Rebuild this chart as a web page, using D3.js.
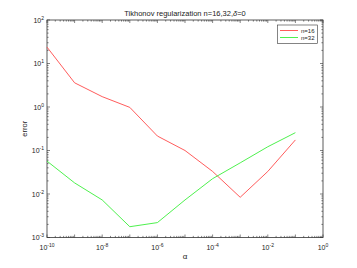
<!DOCTYPE html>
<html><head><meta charset="utf-8">
<script src="https://cdn.jsdelivr.net/npm/d3@7"></script>
<style>body{margin:0;background:#fff}svg{display:block}text{font-family:"Liberation Sans",Arial,sans-serif;fill:#222}</style>
</head><body>
<script>
const alphas = [1e-10,1e-9,1e-8,1e-7,1e-6,1e-5,1e-4,1e-3,1e-2,1e-1];
const err16 = [23.8,3.6,1.73,0.98,0.215,0.10,0.033,0.0084,0.033,0.175];
const err32 = [0.057,0.018,0.0073,0.00177,0.0022,0.0073,0.0225,0.052,0.122,0.257];
const seriesNames = ["n=16","n=32"];
const seriesColors = ["#ff4a4a","#3aee3a"];
const xTickExps = [-10,-8,-6,-4,-2,0];
const yTickExps = [-3,-2,-1,0,1,2];

const W=357,H=268;
const svg=d3.select("body").append("svg").attr("width",W).attr("height",H);
const L=47,R=323,T=20,B=237.5;
const x=d3.scaleLog().domain([1e-10,1]).range([L,R]);
const y=d3.scaleLog().domain([1e-3,1e2]).range([B,T]);

const g=svg.append("g");
g.append("rect").attr("x",L).attr("y",T).attr("width",R-L).attr("height",B-T)
 .attr("fill","none").attr("stroke","#333").attr("stroke-width",0.8);

const minorX=[],majorX=[];
for(let e=-10;e<=0;e++){majorX.push(Math.pow(10,e)); if(e<0) for(let k=2;k<10;k++) minorX.push(k*Math.pow(10,e));}
const minorY=[],majorY=[];
for(let e=-3;e<=2;e++){majorY.push(Math.pow(10,e)); if(e<2) for(let k=2;k<10;k++) minorY.push(k*Math.pow(10,e));}
const tk=g.append("g").attr("stroke","#333").attr("stroke-width",0.6);
function xt(v,len){const px=x(v);
 tk.append("line").attr("x1",px).attr("x2",px).attr("y1",B).attr("y2",B-len);
 tk.append("line").attr("x1",px).attr("x2",px).attr("y1",T).attr("y2",T+len);}
function yt(v,len){const py=y(v);
 tk.append("line").attr("y1",py).attr("y2",py).attr("x1",L).attr("x2",L+len);
 tk.append("line").attr("y1",py).attr("y2",py).attr("x1",R).attr("x2",R-len);}
majorX.forEach(v=>xt(v,3)); minorX.forEach(v=>xt(v,1.6));
majorY.forEach(v=>yt(v,3)); minorY.forEach(v=>yt(v,1.6));

xTickExps.forEach(e=>{
 const t=g.append("text").attr("x",x(Math.pow(10,e))).attr("y",B+12).attr("text-anchor","middle").attr("font-size",7);
 t.append("tspan").text("10");
 t.append("tspan").attr("dy",-3).attr("font-size",5).text(e);
});
yTickExps.forEach(e=>{
 const t=g.append("text").attr("x",L-3).attr("y",y(Math.pow(10,e))+2.5).attr("text-anchor","end").attr("font-size",7);
 t.append("tspan").text("10");
 t.append("tspan").attr("dy",-3).attr("font-size",5).text(e);
});

const line=d3.line().x(d=>x(d[0])).y(d=>y(d[1]));
[err16,err32].forEach((s,i)=>{
 g.append("path").datum(alphas.map((a,j)=>[a,s[j]])).attr("d",line)
  .attr("fill","none").attr("stroke",seriesColors[i]).attr("stroke-width",0.9);
});

const tt=svg.append("text").attr("x",(L+R)/2).attr("y",16).attr("text-anchor","middle").attr("font-size",7.5);
tt.append("tspan").text("Tikhonov regularization n=16,32,");
tt.append("tspan").attr("font-style","italic").text("δ");
tt.append("tspan").text("=0");
svg.append("text").attr("x",(L+R)/2).attr("y",259).attr("text-anchor","middle").attr("font-size",8).text("α");
svg.append("text").attr("transform","translate(27,"+((T+B)/2)+") rotate(-90)").attr("text-anchor","middle").attr("font-size",7.5).text("error");

const lg=svg.append("g");
lg.append("rect").attr("x",277.5).attr("y",25).attr("width",40).attr("height",18.5)
 .attr("fill","#fff").attr("stroke","#333").attr("stroke-width",0.6);
seriesNames.forEach((n,i)=>{
 const yy=30.5+i*7;
 lg.append("line").attr("x1",280).attr("x2",298).attr("y1",yy).attr("y2",yy).attr("stroke",seriesColors[i]).attr("stroke-width",0.9);
 lg.append("text").attr("x",301).attr("y",yy+2.2).attr("font-size",6).text(n);
});
</script>
</body></html>
